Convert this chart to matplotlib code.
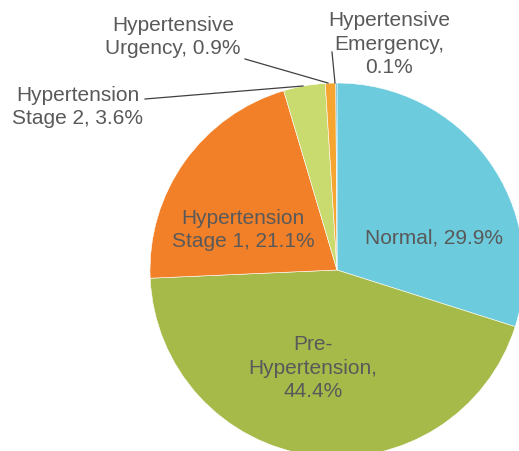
import matplotlib.pyplot as plt

plt.rcParams['font.family'] = ['Liberation Sans', 'DejaVu Sans']

categories = ['Normal', 'Pre-\nHypertension', 'Hypertension\nStage 1', 'Hypertension\nStage 2',
              'Hypertensive\nUrgency', 'Hypertensive\nEmergency']
values = [29.9, 44.4, 21.1, 3.6, 0.9, 0.1]
colors = ['#6ccbdc', '#a6ba4a', '#f28029', '#c9db6e', '#f6a531', '#2ea6c6']

W, H = 519, 451
fig = plt.figure(figsize=(W / 100, H / 100), dpi=100)
ax = fig.add_axes([0, 0, 1, 1])

# pie in pixel coords (y flipped)
cx, cy, r = 337, H - 270, 187
ax.pie(values, colors=colors, startangle=90, counterclock=False,
       center=(cx, cy), radius=r, frame=True,
       wedgeprops=dict(edgecolor='white', linewidth=0.4))
ax.set_xlim(0, W)
ax.set_ylim(0, H)
ax.set_aspect('equal')
ax.axis('off')

txt = dict(color='#595959', fontsize=15, ha='center', va='center', linespacing=1.3)

# inside labels
ax.text(434, H - 238, f'{categories[0]}, {values[0]}%', **txt)
ax.text(313, H - 368, f'{categories[1]},\n{values[1]}%', **txt)
ax.text(243, H - 230, f'{categories[2]}, {values[2]}%', **txt)
# outside labels
ax.text(78, H - 107, f'{categories[3]}, {values[3]}%', **txt)
ax.text(173, H - 37, f'{categories[4]}, {values[4]}%', **txt)
ax.text(389, H - 44, f'{categories[5]},\n{values[5]}%', **txt)

# leader lines
lc = dict(color='#404040', linewidth=0.9)
ax.plot([145, 303], [H - 99, H - 86], **lc)
ax.plot([245, 328], [H - 59, H - 83], **lc)
ax.plot([332, 335], [H - 52, H - 83], **lc)

fig.savefig('out.png', dpi=100)
